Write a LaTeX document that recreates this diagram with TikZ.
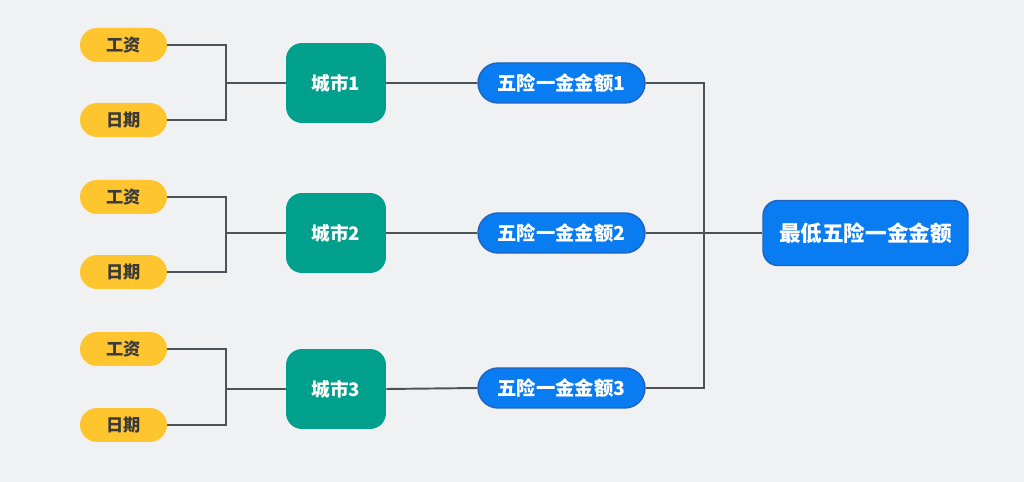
\documentclass[tikz,border=0pt]{standalone}
\usepackage{fontspec}
\newfontfamily\cjk{Noto Sans CJK SC}
\usepackage{xcolor}
\usepackage{tikz}
\usetikzlibrary{calc,positioning}

\definecolor{bggray}{HTML}{EFF1F3}
\definecolor{leafyellow}{HTML}{FFC52E}
\definecolor{leaftext}{HTML}{3A3A3A}
\definecolor{cityteal}{HTML}{00A08C}
\definecolor{fundblue}{HTML}{0A7CF2}
\definecolor{funddark}{HTML}{2062BE}
\definecolor{linkgray}{HTML}{4B5358}

\tikzset{
    leaf/.style={fill=leafyellow, text=leaftext, rounded corners=0.34cm,
        minimum width=1.74cm, minimum height=0.68cm, inner sep=0pt,
        font=\cjk\bfseries\fontsize{9.8}{11}\selectfont},
    citybox/.style={fill=cityteal, text=white, rounded corners=0.32cm,
        minimum width=2cm, minimum height=1.6cm, inner sep=0pt,
        font=\cjk\bfseries\fontsize{10.6}{12}\selectfont},
    fundbox/.style={fill=fundblue, draw=funddark, line width=0.8pt, text=white,
        rounded corners=0.4cm, minimum width=3.34cm, minimum height=0.8cm, inner sep=0pt,
        font=\cjk\bfseries\fontsize{11}{13}\selectfont},
    resultbox/.style={fill=fundblue, draw=funddark, line width=0.8pt, text=white,
        rounded corners=0.3cm, minimum width=4.1cm, minimum height=1.3cm, inner sep=0pt,
        font=\cjk\bfseries\fontsize{12.3}{14}\selectfont},
    link/.style={draw=linkgray, line width=1.1pt}
}

\begin{document}
\begin{tikzpicture}[x=0.02cm, y=-0.02cm]
    \fill[bggray] (0,0) rectangle (1024,482);
    \useasboundingbox (0,0) rectangle (1024,482);

    % three cities, each with wage and date
    \foreach \i/\ya/\yb/\yc/\yf in {1/45/120/83/83, 2/197/272/233/233, 3/349/425/389/388} {
        \node [leaf] (wage\i) at (123.5,\ya) {工资};
        \node [leaf] (date\i) at (123.5,\yb) {日期};
        \node [citybox] (city\i) at (336,\yc) {城市\i};
        \node [fundbox] (fund\i) at (561.5,\yf) {五险一金金额\i};
        \coordinate (join\i) at (226,\yc);

        \draw[link] (wage\i.east) -| (join\i);
        \draw[link] (date\i.east) -| (join\i);
        \draw[link] (join\i) -- (city\i.west);
        \draw[link] (city\i.east) -- (fund\i.west);
    }

    \node [resultbox] (minfund) at (865.5,233) {最低五险一金金额};
    \coordinate (merge) at (704,233);

    \draw[link] (fund1.east) -| (merge);
    \draw[link] (fund3.east) -| (merge);
    \draw[link] (fund2.east) -- (minfund.west);

\end{tikzpicture}
\end{document}
